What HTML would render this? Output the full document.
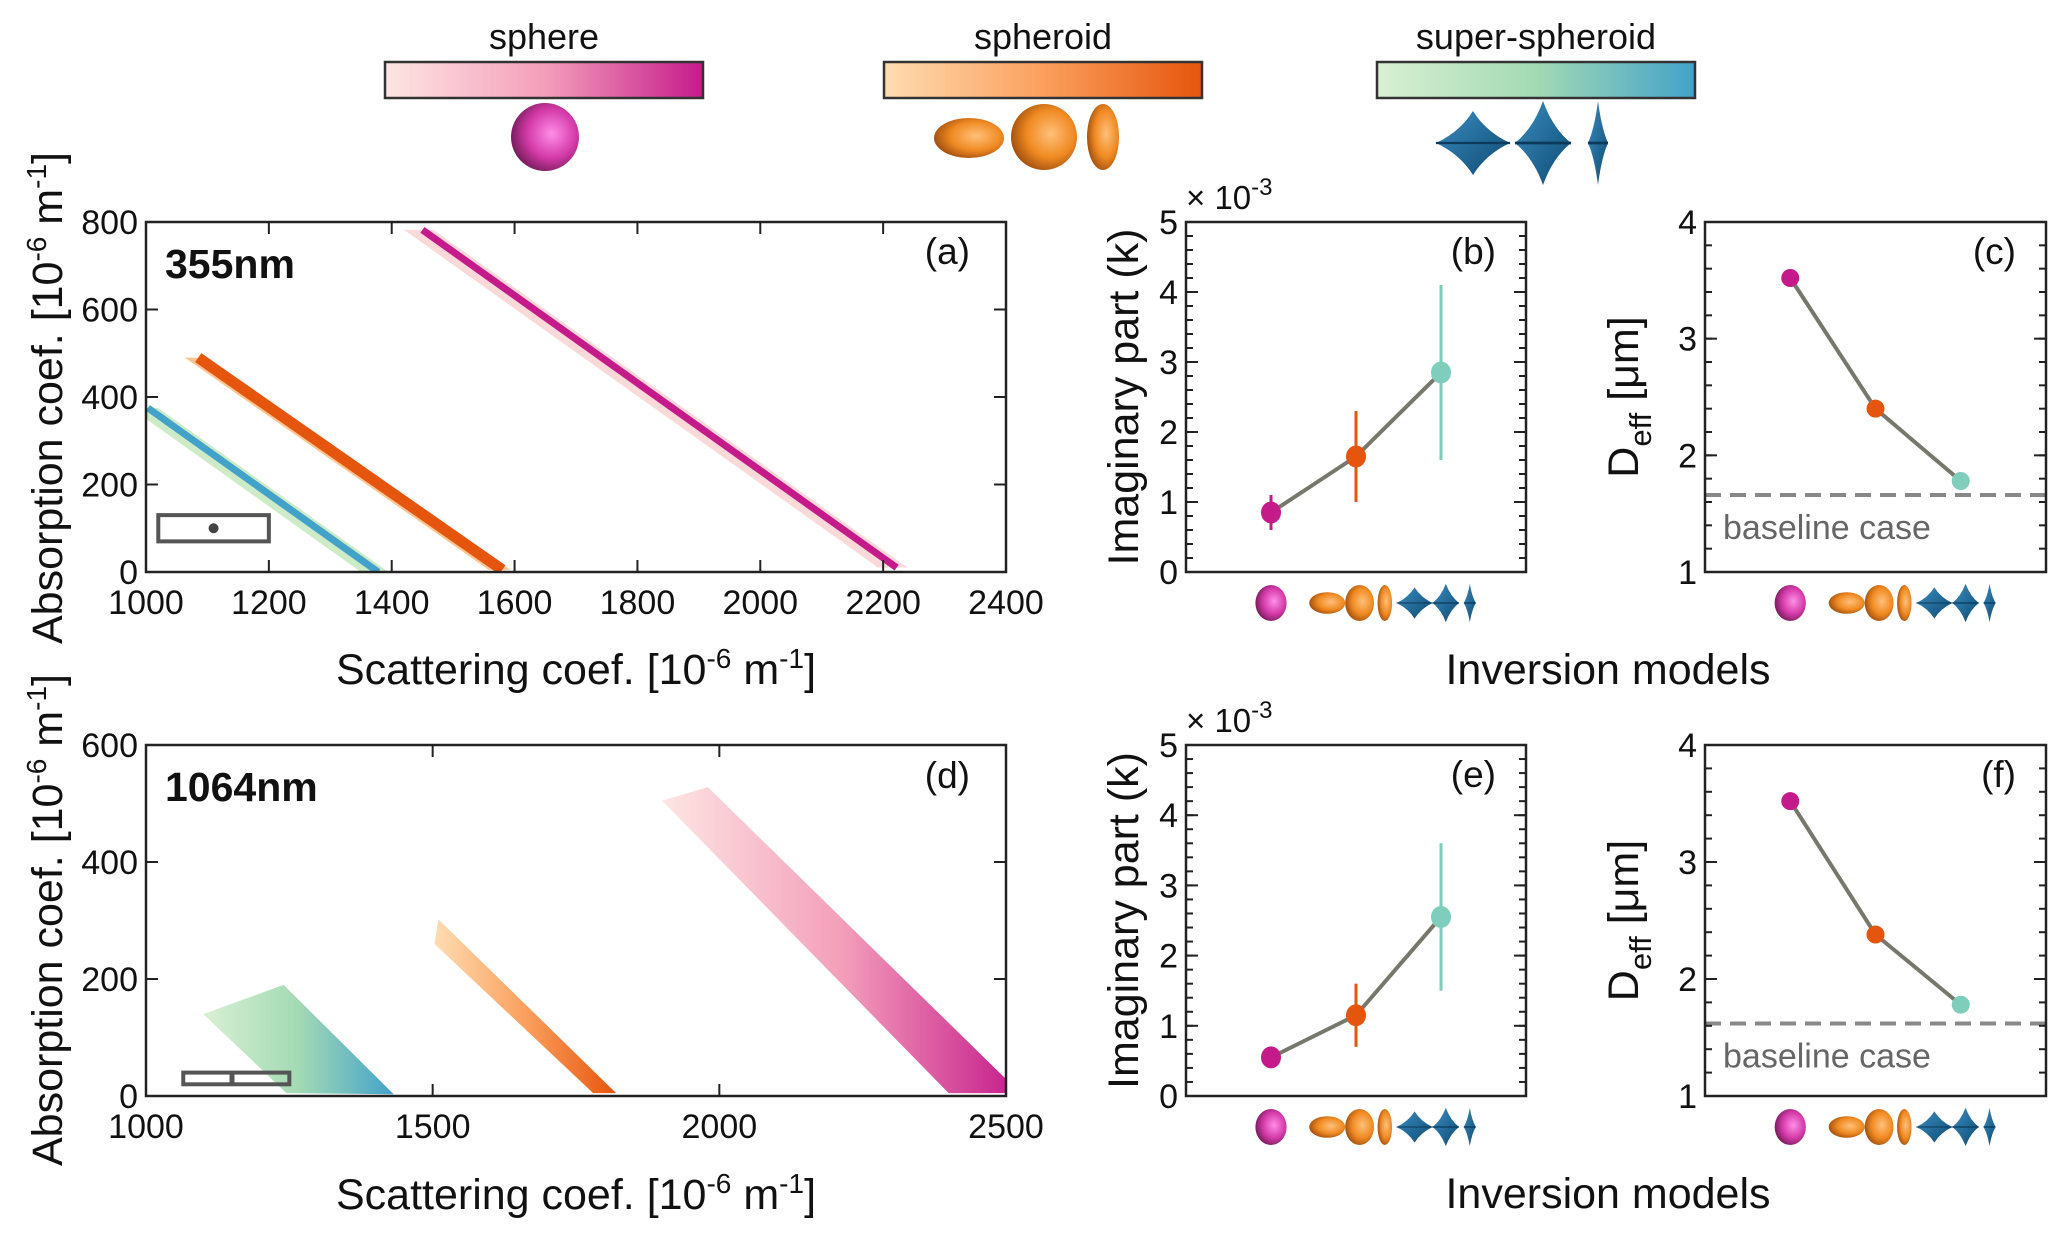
<!DOCTYPE html>
<html><head><meta charset="utf-8"><style>
html,body{margin:0;padding:0;background:#fff;}
svg{display:block;font-family:"Liberation Sans",sans-serif;}
</style></head><body>
<svg id="fig" width="2067" height="1239" viewBox="0 0 2067 1239" xmlns="http://www.w3.org/2000/svg">
<defs>
<linearGradient id="gSph" x1="0" x2="1"><stop offset="0" stop-color="#fde6e3"/><stop offset="0.5" stop-color="#f49fbb"/><stop offset="1" stop-color="#c51b8a"/></linearGradient>
<linearGradient id="gSpd" x1="0" x2="1"><stop offset="0" stop-color="#fedcb2"/><stop offset="0.5" stop-color="#fba05e"/><stop offset="1" stop-color="#e6550d"/></linearGradient>
<linearGradient id="gSup" x1="0" x2="1"><stop offset="0" stop-color="#d9f0d3"/><stop offset="0.5" stop-color="#a3dab4"/><stop offset="1" stop-color="#43a2ca"/></linearGradient>
<radialGradient id="rSph" cx="0.6" cy="0.45" r="0.6"><stop offset="0" stop-color="#ff8ee8"/><stop offset="0.6" stop-color="#d43aa8"/><stop offset="1" stop-color="#7a1d5e"/></radialGradient>
<radialGradient id="rSpd" cx="0.6" cy="0.45" r="0.6"><stop offset="0" stop-color="#ffc07a"/><stop offset="0.6" stop-color="#f08a22"/><stop offset="1" stop-color="#a5520f"/></radialGradient>
<linearGradient id="gBlue" x1="0" y1="0" x2="1" y2="1"><stop offset="0" stop-color="#3a8cc0"/><stop offset="1" stop-color="#0e4a72"/></linearGradient>
</defs>
<g id="root"></g>
</svg>
<script>
// ---------- data ----------
const xTicksA = [1000,1200,1400,1600,1800,2000,2200,2400];
const yTicksA = [0,200,400,600,800];
const xTicksD = [1000,1500,2000,2500];
const yTicksD = [0,200,400,600];
// panel (a) bands: start x,y ; end x,y ; band half-width (in x units)
const bandAx0 = [1450,1085,1003];
const bandAy0 = [782,490,375];
const bandAx1 = [2222,1580,1378];
const bandAy1 = [10,5,0];
const bandAw  = [30,22,28];
// panel (d) parallelograms: top-left, top-right, bottom-right, bottom-left
const bandDx = [[1900,1980,2525,2400],[1503,1510,1820,1780],[1100,1240,1432,1245]];
const bandDy = [[505,528,5,5],[260,302,5,5],[140,190,3,5]];
const models = ['sphere','spheroid','super-spheroid'];
const kB = [0.85,1.65,2.85], kBlo=[0.6,1.0,1.6], kBhi=[1.1,2.3,4.1];
const dC = [3.52,2.40,1.78], baseC = 1.66;
const kE = [0.55,1.15,2.55], kElo=[0.45,0.7,1.5], kEhi=[0.65,1.6,3.6];
const dF = [3.52,2.38,1.78], baseF = 1.62;
const modelColors = ['#c51b8a','#e6550d','#7fcdbb'];
const grads = ['gSph','gSpd','gSup'];

// ---------- helpers ----------
const NS='http://www.w3.org/2000/svg';
const root=document.getElementById('root');
const TF=43, TK=34;
function el(tag,attrs,parent,text){const e=document.createElementNS(NS,tag);for(const k in attrs)e.setAttribute(k,attrs[k]);if(text!==undefined)e.textContent=text;(parent||root).appendChild(e);return e;}
function lin(d0,d1,r0,r1){return v=>r0+(v-d0)/(d1-d0)*(r1-r0);}

function frame(g,L,T,R,B,xs,ys,xt,yt,minorY,tl){
  const t=tl||12;
  xt.forEach(v=>{const x=xs(v);el('line',{x1:x,y1:B,x2:x,y2:B-t,stroke:'#222','stroke-width':2},g);el('line',{x1:x,y1:T,x2:x,y2:T+t,stroke:'#222','stroke-width':2},g);});
  yt.forEach(v=>{const y=ys(v);el('line',{x1:L,y1:y,x2:L+t,y2:y,stroke:'#222','stroke-width':2},g);el('line',{x1:R,y1:y,x2:R-t,y2:y,stroke:'#222','stroke-width':2},g);});
  if(minorY){minorY.forEach(v=>{const y=ys(v);el('line',{x1:L,y1:y,x2:L+7,y2:y,stroke:'#222','stroke-width':2},g);el('line',{x1:R,y1:y,x2:R-7,y2:y,stroke:'#222','stroke-width':2},g);});}
  el('rect',{x:L,y:T,width:R-L,height:B-T,fill:'none',stroke:'#222','stroke-width':2.5},g);
}
function tickLabels(g,xs,ys,xt,yt,B,L,fs){
  if(xt) xt.forEach(v=>{const t=el('text',{x:xs(v),y:B+42,'font-size':fs,'text-anchor':'middle',fill:'#111'},g,String(v));});
  yt.forEach(v=>{const t=el('text',{x:L-8,y:ys(v)+12,'font-size':fs,'text-anchor':'end',fill:'#111'},g,String(v));});
}
function star(g,cx,cy,hw,hh,fill){
  const k=0.35;
  const d=`M${cx-hw},${cy} Q${cx-hw*k},${cy-hh*k} ${cx},${cy-hh} Q${cx+hw*k},${cy-hh*k} ${cx+hw},${cy} Q${cx+hw*k},${cy+hh*k} ${cx},${cy+hh} Q${cx-hw*k},${cy+hh*k} ${cx-hw},${cy}Z`;
  el('path',{d:d,fill:fill||'url(#gBlue)'},g);
  el('line',{x1:cx-hw,y1:cy,x2:cx+hw,y2:cy,stroke:'#0b3a5a','stroke-width':Math.max(1,hh/15)},g);
}
function icons(g,cx,cy,s){
  const gs=el('g',{},g);
  el('ellipse',{cx:cx[0],cy:cy,rx:13*s,ry:15*s,fill:'url(#rSph)'},gs);
  const gp=el('g',{},g);
  el('ellipse',{cx:cx[1]-24*s,cy:cy,rx:15*s,ry:9*s,fill:'url(#rSpd)'},gp);
  el('ellipse',{cx:cx[1]+3*s,cy:cy,rx:12*s,ry:15*s,fill:'url(#rSpd)'},gp);
  el('ellipse',{cx:cx[1]+24*s,cy:cy,rx:6*s,ry:15*s,fill:'url(#rSpd)'},gp);
  const gq=el('g',{},g);
  star(gq,cx[2]-22*s,cy,15*s,13*s);star(gq,cx[2]+4*s,cy,11*s,16*s);star(gq,cx[2]+24*s,cy,5*s,16*s);
}

// ---------- colorbars ----------
const cbX=[385,884,1377], cbW=318, cbLab=['sphere','spheroid','super-spheroid'];
for(let i=0;i<3;i++){
  const g=el('g',{});
  el('rect',{x:cbX[i],y:62,width:cbW,height:36,fill:'url(#'+grads[i]+')',stroke:'#333','stroke-width':2.5},g);
  const t=el('text',{x:cbX[i]+cbW/2,y:49,'font-size':36,'text-anchor':'middle',fill:'#111'},g,cbLab[i]);
  
}
{ const g=el('g',{});
  el('circle',{cx:545,cy:137,r:34,fill:'url(#rSph)'},g);
  el('ellipse',{cx:969,cy:138,rx:35,ry:20,fill:'url(#rSpd)'},g);
  el('circle',{cx:1044,cy:137,r:33,fill:'url(#rSpd)'},g);
  el('ellipse',{cx:1103,cy:137,rx:16,ry:33,fill:'url(#rSpd)'},g);
  star(g,1473,143,37,32);star(g,1543,143,28,42);star(g,1598,143,10,42);
}

function supTitle(t){t.innerHTML='Scattering coef. [10<tspan dy="-16" font-size="28">-6</tspan><tspan dy="16"> m</tspan><tspan dy="-16" font-size="28">-1</tspan><tspan dy="16">]</tspan>';}
function absTitle(t){t.innerHTML='Absorption coef. [10<tspan dy="-16" font-size="28">-6</tspan><tspan dy="16"> m</tspan><tspan dy="-16" font-size="28">-1</tspan><tspan dy="16">]</tspan>';}

// ---------- panel a ----------
function bandPanelA(){
  const L=146,R=1006,T=222,B=572;
  const xs=lin(1000,2400,L,R), ys=lin(0,800,B,T);
  const g=el('g',{});
  const cp=el('clipPath',{id:'clipA'},g);el('rect',{x:L,y:T,width:R-L,height:B-T},cp);
  const pg=el('g',{'clip-path':'url(#clipA)'},g);
  const dark=['#c51b8a','#e6550d','#43a2ca'], pale=['#fcd5d5','#fdbf85','#c7e9c0'];
  for(let i=0;i<3;i++){
    const w=bandAw[i];
    const p=el('polygon',{points:[[xs(bandAx0[i]-w),ys(bandAy0[i])],[xs(bandAx0[i]+w*0.6),ys(bandAy0[i])],[xs(bandAx1[i]+w*0.6),ys(bandAy1[i])],[xs(bandAx1[i]-w),ys(bandAy1[i])]].map(q=>q.join(',')).join(' '),fill:pale[i],opacity:0.9},pg);
    
    const l=el('line',{x1:xs(bandAx0[i]),y1:ys(bandAy0[i]),x2:xs(bandAx1[i]),y2:ys(bandAy1[i]),stroke:dark[i],'stroke-width':i==1?11:7},pg);
    
  }
  frame(g,L,T,R,B,xs,ys,xTicksA,yTicksA);
  tickLabels(g,xs,ys,xTicksA,yTicksA,B,L,TK);
  const bx=el('rect',{x:xs(1020),y:ys(130),width:xs(1200)-xs(1020),height:ys(70)-ys(130),fill:'none',stroke:'#555','stroke-width':4},g);
  
  el('circle',{cx:xs(1110),cy:ys(100),r:5,fill:'#444'},g);
  el('text',{x:165,y:278,'font-size':41,'font-weight':'bold',fill:'#111'},g,'355nm');
  el('text',{x:970,y:264,'font-size':37,'text-anchor':'end',fill:'#111'},g,'(a)');
  const xl=el('text',{x:576,y:684,'font-size':TF,'text-anchor':'middle',fill:'#111'},g);supTitle(xl);
  
  const yl=el('text',{x:0,y:0,'font-size':TF,'text-anchor':'middle',fill:'#111',transform:'translate(62,398) rotate(-90)'},g);absTitle(yl);
  
}
bandPanelA();

// ---------- panel d ----------
function bandPanelD(){
  const L=146,R=1006,T=745,B=1096;
  const xs=lin(1000,2500,L,R), ys=lin(0,600,B,T);
  const g=el('g',{});
  const cp=el('clipPath',{id:'clipD'},g);el('rect',{x:L,y:T,width:R-L,height:B-T},cp);
  const pg=el('g',{'clip-path':'url(#clipD)'},g);
  for(let i=0;i<3;i++){
    const pts=bandDx[i].map((x,j)=>xs(x)+','+ys(bandDy[i][j])).join(' ');
    const p=el('polygon',{points:pts,fill:'url(#'+grads[i]+')'},pg);
    
  }
  frame(g,L,T,R,B,xs,ys,xTicksD,yTicksD);
  tickLabels(g,xs,ys,xTicksD,yTicksD,B,L,TK);
  const bx=el('rect',{x:xs(1065),y:ys(40),width:xs(1250)-xs(1065),height:ys(20)-ys(40),fill:'none',stroke:'#555','stroke-width':4},g);
  
  el('line',{x1:xs(1150),y1:ys(40),x2:xs(1150),y2:ys(20),stroke:'#555','stroke-width':5},g);
  el('text',{x:165,y:801,'font-size':41,'font-weight':'bold',fill:'#111'},g,'1064nm');
  el('text',{x:970,y:788,'font-size':37,'text-anchor':'end',fill:'#111'},g,'(d)');
  const xl=el('text',{x:576,y:1209,'font-size':TF,'text-anchor':'middle',fill:'#111'},g);supTitle(xl);
  
  const yl=el('text',{x:0,y:0,'font-size':TF,'text-anchor':'middle',fill:'#111',transform:'translate(62,920) rotate(-90)'},g);absTitle(yl);
  
}
bandPanelD();

// ---------- point panels ----------
function pointPanel(name,L,R,T,B,y0,y1,yt,minor,vals,lo,hi,base,label,kind){
  const xs=lin(0,1,L,R), ys=lin(y0,y1,B,T);
  const cats=[0.25,0.5,0.75];
  const g=el('g',{});
  if(base!==null){const b=el('line',{x1:L,y1:ys(base),x2:R,y2:ys(base),stroke:'#888','stroke-width':4,'stroke-dasharray':'16,9'},g);
    const bt=el('text',{x:L+18,y:ys(base)+44,'font-size':34,fill:'#666'},g,'baseline case');}
  const ln=el('polyline',{points:vals.map((v,i)=>xs(cats[i])+','+ys(v)).join(' '),fill:'none',stroke:'#77776c','stroke-width':4},g);
  
  vals.forEach((v,i)=>{
    if(lo){const e=el('line',{x1:xs(cats[i]),y1:ys(lo[i]),x2:xs(cats[i]),y2:ys(hi[i]),stroke:modelColors[i],'stroke-width':3},g);}
    const c=el('ellipse',{cx:xs(cats[i]),cy:ys(v),rx:kind?9:10,ry:kind?9:11,fill:modelColors[i]},g);
    
  });
  frame(g,L,T,R,B,xs,ys,[],yt,minor);
  tickLabels(g,xs,ys,null,yt,B,L,TK);
  el('text',{x:R-30,y:T+42,'font-size':37,'text-anchor':'end',fill:'#111'},g,label);
  icons(g,cats.map(xs),B+31,1.2);
}
const mB=[],mC=[];for(let v=0;v<=5.001;v+=0.2)mB.push(+v.toFixed(1));for(let v=1;v<=4.001;v+=0.2)mC.push(+v.toFixed(1));
pointPanel('panel-b',1186,1526,222,572,0,5,[0,1,2,3,4,5],mB,kB,kBlo,kBhi,null,'(b)');
pointPanel('panel-c',1705,2046,222,572,1,4,[1,2,3,4],mC,dC,null,null,baseC,'(c)',1);
pointPanel('panel-e',1186,1526,745,1096,0,5,[0,1,2,3,4,5],mB,kE,kElo,kEhi,null,'(e)');
pointPanel('panel-f',1705,2046,745,1096,1,4,[1,2,3,4],mC,dF,null,null,baseF,'(f)',1);

[[222,572,209],[745,1096,732]].forEach((p,k)=>{
  const mid=(p[0]+p[1])/2;
  const ex=el('text',{x:1186,y:p[2],'font-size':33,fill:'#111'});ex.innerHTML='× 10<tspan dy="-14" font-size="24">-3</tspan>';
  
  const y1=el('text',{x:0,y:0,'font-size':TF,'text-anchor':'middle',fill:'#111',transform:`translate(1138,${mid}) rotate(-90)`},undefined,'Imaginary part (k)');
  
  const y2=el('text',{x:0,y:0,'font-size':TF,'text-anchor':'middle',fill:'#111',transform:`translate(1638,${mid}) rotate(-90)`});
  y2.innerHTML='D<tspan dy="13" font-size="31">eff</tspan><tspan dy="-13"> [μm]</tspan>';
  
  const xt=el('text',{x:1608,y:k?1208:684,'font-size':TF,'text-anchor':'middle',fill:'#111'},undefined,'Inversion models');
  
});
</script>
</body></html>
